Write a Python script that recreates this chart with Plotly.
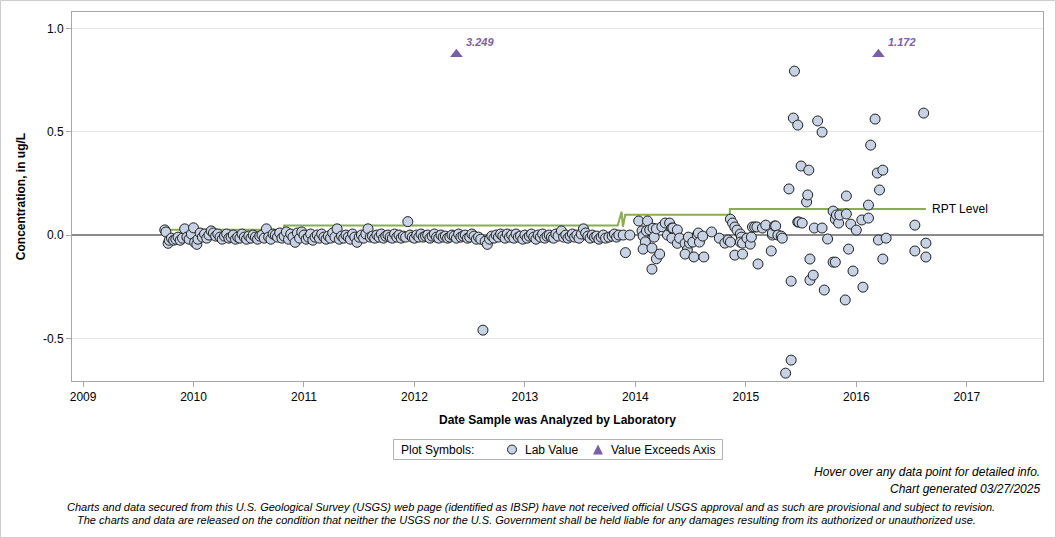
import plotly.graph_objects as go

# ---------------- data ----------------
# Lab values: decimal year of analysis, concentration (ug/L)
lab_years = [
    2009.74, 2009.75, 2009.77, 2009.78, 2009.80, 2009.82, 2009.84, 2009.86, 2009.88, 2009.90,
    2009.92, 2009.94, 2009.96, 2009.98,
    2010.00, 2010.01, 2010.03, 2010.04, 2010.06, 2010.08, 2010.10, 2010.12, 2010.14, 2010.16,
    2010.18, 2010.20, 2010.22, 2010.24, 2010.26, 2010.28, 2010.30, 2010.32, 2010.34, 2010.36,
    2010.38, 2010.40, 2010.42, 2010.44, 2010.46, 2010.48,
    2010.50, 2010.52, 2010.54, 2010.56, 2010.58, 2010.60, 2010.62, 2010.64, 2010.66, 2010.68,
    2010.70, 2010.72, 2010.74, 2010.76, 2010.78, 2010.80, 2010.82, 2010.84, 2010.86, 2010.88,
    2010.90, 2010.92, 2010.94, 2010.96, 2010.98,
    2011.00, 2011.02, 2011.04, 2011.06, 2011.08, 2011.10, 2011.12, 2011.14, 2011.16, 2011.18,
    2011.20, 2011.22, 2011.24, 2011.26, 2011.28, 2011.30, 2011.32, 2011.34, 2011.36, 2011.38,
    2011.40, 2011.42, 2011.44, 2011.46, 2011.48,
    2011.50, 2011.52, 2011.54, 2011.56, 2011.58, 2011.60, 2011.62, 2011.64, 2011.66, 2011.68,
    2011.70, 2011.72, 2011.74, 2011.76, 2011.78, 2011.80, 2011.82, 2011.84, 2011.86, 2011.88,
    2011.90, 2011.92, 2011.94, 2011.96, 2011.98,
    2012.00, 2012.02, 2012.04, 2012.06, 2012.08, 2012.10, 2012.12, 2012.14, 2012.16, 2012.18,
    2012.20, 2012.22, 2012.24, 2012.26, 2012.28, 2012.30, 2012.32, 2012.34, 2012.36, 2012.38,
    2012.40, 2012.42, 2012.44, 2012.46, 2012.48,
    2012.50, 2012.52, 2012.54, 2012.56, 2012.58, 2012.60, 2012.62, 2012.64, 2012.66, 2012.68,
    2012.70, 2012.72, 2012.74, 2012.76, 2012.78, 2012.80, 2012.82, 2012.84, 2012.86, 2012.88,
    2012.90, 2012.92, 2012.94, 2012.96, 2012.98,
    2013.00, 2013.02, 2013.04, 2013.06, 2013.08, 2013.10, 2013.12, 2013.14, 2013.16, 2013.18,
    2013.20, 2013.22, 2013.24, 2013.26, 2013.28, 2013.30, 2013.33, 2013.35, 2013.37, 2013.39,
    2013.41, 2013.43, 2013.45, 2013.47, 2013.49,
    2013.51, 2013.53, 2013.55, 2013.57, 2013.59, 2013.61, 2013.63, 2013.65, 2013.67, 2013.69,
    2013.71, 2013.73, 2013.76, 2013.79, 2013.81, 2013.83, 2013.85, 2013.89, 2013.91, 2013.95,
    2014.03, 2014.06, 2014.07, 2014.09, 2014.07, 2014.10, 2014.11, 2014.13, 2014.15, 2014.15,
    2014.16, 2014.17, 2014.19, 2014.19, 2014.22, 2014.24, 2014.27, 2014.29, 2014.31, 2014.33,
    2014.33, 2014.34, 2014.38, 2014.38, 2014.40, 2014.45, 2014.47, 2014.45, 2014.49, 2014.48,
    2014.52, 2014.53, 2014.56, 2014.57, 2014.58, 2014.61, 2014.62, 2014.69, 2014.76, 2014.81,
    2014.84, 2014.86, 2014.86, 2014.88, 2014.90, 2014.92, 2014.95, 2014.96, 2014.95, 2014.97,
    2014.90, 2014.97, 2015.01, 2015.04, 2015.05, 2015.06, 2015.08, 2015.10, 2015.11, 2015.15,
    2015.18, 2015.23, 2015.24, 2015.24, 2015.26, 2015.27, 2015.29, 2015.32, 2015.33, 2015.36,
    2015.39, 2015.41, 2015.41, 2015.43, 2015.44, 2015.47, 2015.47, 2015.48, 2015.50, 2015.51,
    2015.55, 2015.56, 2015.57, 2015.58, 2015.58, 2015.61, 2015.62, 2015.65, 2015.69, 2015.69,
    2015.71, 2015.74, 2015.79, 2015.79, 2015.81, 2015.81, 2015.82, 2015.84, 2015.85, 2015.90,
    2015.91, 2015.91, 2015.93, 2015.95, 2015.97, 2016.00, 2016.05, 2016.06, 2016.11, 2016.11,
    2016.13, 2016.17, 2016.19, 2016.20, 2016.21, 2016.24, 2016.24, 2016.27, 2016.53, 2016.53,
    2016.61, 2016.63, 2016.63,
]
lab_values = [
    0.025, 0.015, -0.040, -0.025, -0.015, -0.025, -0.020, -0.010, -0.025, -0.015,
    0.030, -0.010, -0.020, 0.005,
    0.035, -0.035, -0.045, -0.020, 0.010, -0.010, 0.005, -0.015, 0.000, 0.020,
    0.010, -0.005, 0.005, -0.010, -0.020, -0.005, 0.005, -0.015, -0.010, 0.000,
    -0.020, -0.010, -0.015, 0.005, -0.010, -0.020,
    -0.005, -0.015, 0.000, -0.010, -0.020, -0.005, 0.000, -0.015, 0.030, -0.010,
    -0.020, 0.005, 0.000, -0.010, 0.010, -0.015, -0.005, 0.015, -0.020, 0.005,
    -0.010, -0.035, 0.010, -0.015, 0.015,
    0.000, -0.020, -0.010, 0.005, -0.025, -0.010, 0.000, -0.015, 0.005, -0.010,
    -0.020, -0.005, -0.015, 0.010, -0.010, 0.030, -0.020, -0.005, -0.015, 0.000,
    -0.010, -0.020, 0.005, -0.010, -0.035,
    -0.010, 0.000, -0.015, 0.005, 0.030, -0.010, -0.005, -0.015, 0.000, -0.010,
    0.005, -0.015, -0.005, 0.000, -0.010, -0.015, 0.005, -0.010, 0.000, -0.015,
    -0.005, -0.010, 0.065, 0.000, -0.010,
    -0.015, 0.000, -0.010, 0.005, -0.010, -0.005, 0.000, -0.015, -0.005, 0.005,
    -0.010, -0.015, 0.000, -0.010, -0.005, -0.015, -0.010, 0.000, -0.005, -0.015,
    0.005, -0.010, -0.005, 0.000, -0.015,
    -0.010, 0.005, -0.005, -0.020, -0.010, -0.020, -0.460, -0.030, -0.045, -0.020,
    -0.005, -0.015, 0.000, -0.010, 0.005, -0.005, -0.015, 0.005, -0.010, 0.000,
    -0.015, 0.005, -0.010, -0.005, -0.020,
    0.000, -0.015, -0.005, 0.005, -0.010, -0.020, 0.000, -0.010, 0.005, -0.015,
    -0.005, 0.000, -0.010, -0.015, 0.005, -0.005, 0.020, -0.010, 0.000, -0.015,
    -0.005, 0.005, -0.010, 0.000, -0.015,
    0.005, 0.030, 0.010, -0.005, -0.015, 0.000, -0.010, -0.005, -0.020, -0.010,
    0.000, -0.015, -0.010, -0.005, 0.005, -0.010, 0.000, 0.000, -0.085, 0.000,
    0.068, 0.020, -0.005, -0.033, -0.068, 0.020, 0.068, 0.025, -0.063, -0.165,
    0.033, -0.010, 0.030, -0.115, -0.092, 0.040, 0.058, 0.000, 0.058, 0.034,
    -0.015, 0.034, 0.025, -0.040, -0.015, -0.040, -0.072, -0.092, -0.039, -0.010,
    -0.034, -0.106, 0.000, 0.010, -0.034, -0.005, -0.106, 0.015, -0.015, -0.039,
    -0.024, -0.034, 0.077, 0.058, 0.039, 0.024, 0.005, -0.010, -0.034, -0.039,
    -0.097, -0.092, -0.015, -0.044, -0.010, 0.039, 0.039, 0.039, -0.140, 0.034,
    0.048, -0.077, 0.000, 0.010, 0.044, 0.044, 0.000, -0.005, -0.015, -0.668,
    0.223, -0.605, -0.223, 0.566, 0.793, 0.532, 0.063, 0.063, 0.334, 0.058,
    0.160, 0.194, 0.314, -0.116, -0.218, -0.194, 0.034, 0.552, 0.498, 0.034,
    -0.266, -0.019, 0.116, -0.131, -0.131, 0.077, 0.097, 0.058, 0.097, -0.314,
    0.102, 0.189, -0.068, 0.053, -0.174, 0.024, 0.073, -0.252, 0.082, 0.145,
    0.435, 0.561, 0.300, -0.024, 0.218, 0.314, -0.116, -0.015, 0.048, -0.077,
    0.590, -0.039, -0.106,
]

# Values above the axis maximum (drawn as triangles near the top)
exceed_years = [2012.38, 2016.20]
exceed_values = [3.249, 1.172]
exceed_plot_y = 0.875  # position where off-scale values are marked

# Reporting level (RPT) step line
rpt_years = [2009.77, 2010.82, 2010.82, 2013.84, 2013.875, 2013.887, 2013.908, 2014.855, 2014.855, 2016.63]
rpt_values = [0.026, 0.026, 0.046, 0.046, 0.113, 0.040, 0.098, 0.098, 0.126, 0.126]

x_ticks = [2009, 2010, 2011, 2012, 2013, 2014, 2015, 2016, 2017]
y_ticks = [-0.5, 0.0, 0.5, 1.0]
y_ticklabels = ["-0.5", "0.0", "0.5", "1.0"]

# ---------------- layout geometry ----------------
W, H = 1056, 538
ML, MR, MT, MB = 72, 13, 12, 157
PW, PH = W - ML - MR, H - MT - MB


def pxx(px):
    return (px - ML) / PW


def pxy(py):
    return (H - MB - py) / PH


FONT = "Liberation Sans, Arial, Helvetica, sans-serif"
PURPLE = "#7a5fa6"
GREEN = "#8aac52"
CIRCLE_FILL = "#c7d3e5"
CIRCLE_LINE = "#1f1f1f"

fig = go.Figure()

fig.add_trace(go.Scatter(
    x=rpt_years, y=rpt_values, mode="lines",
    line=dict(color=GREEN, width=2),
    name="RPT Level", showlegend=False, hoverinfo="skip",
))

fig.add_trace(go.Scatter(
    x=lab_years, y=lab_values, mode="markers",
    marker=dict(symbol="circle", size=10, color=CIRCLE_FILL,
                line=dict(color=CIRCLE_LINE, width=1)),
    name="Lab Value", showlegend=False,
    hovertemplate="%{x:.2f}<br>%{y:.3f} ug/L<extra></extra>",
))

fig.add_trace(go.Scatter(
    x=exceed_years, y=[exceed_plot_y] * len(exceed_years), mode="markers",
    marker=dict(symbol="triangle-up", size=11, color=PURPLE, line=dict(width=0)),
    name="Value Exceeds Axis", showlegend=False,
    customdata=exceed_values,
    hovertemplate="%{x:.2f}<br>%{customdata:.3f} ug/L<extra></extra>",
))

annotations = []
for xv, val in zip(exceed_years, exceed_values):
    annotations.append(dict(
        x=xv, y=exceed_plot_y, xref="x", yref="y", text=f"<b><i>{val:.3f}</i></b>",
        showarrow=False, xanchor="left", yanchor="middle", xshift=8, yshift=12,
        font=dict(family=FONT, size=11, color=PURPLE),
    ))

annotations.append(dict(
    x=rpt_years[-1], y=rpt_values[-1], xref="x", yref="y", text="RPT Level",
    showarrow=False, xanchor="left", yanchor="middle", xshift=4,
    font=dict(family=FONT, size=12, color="#000000"),
))

# manual legend ("Plot Symbols:")
LEG_Y = 449.5
annotations += [
    dict(x=pxx(399), y=pxy(LEG_Y), xref="paper", yref="paper", text="Plot Symbols:",
         showarrow=False, xanchor="left", yanchor="middle",
         font=dict(family=FONT, size=12, color="#000")),
    dict(x=pxx(523), y=pxy(LEG_Y), xref="paper", yref="paper", text="Lab Value",
         showarrow=False, xanchor="left", yanchor="middle",
         font=dict(family=FONT, size=12, color="#000")),
    dict(x=pxx(609), y=pxy(LEG_Y), xref="paper", yref="paper", text="Value Exceeds Axis",
         showarrow=False, xanchor="left", yanchor="middle",
         font=dict(family=FONT, size=12, color="#000")),
]

annotations += [
    dict(x=pxx(1042), y=pxy(472), xref="paper", yref="paper",
         text="<i>Hover over any data point for detailed info.</i>", showarrow=False,
         xanchor="right", yanchor="middle", font=dict(family=FONT, size=12, color="#000")),
    dict(x=pxx(1042), y=pxy(489), xref="paper", yref="paper",
         text="<i>Chart generated 03/27/2025</i>", showarrow=False,
         xanchor="right", yanchor="middle", font=dict(family=FONT, size=12, color="#000")),
    dict(x=pxx(531), y=pxy(507), xref="paper", yref="paper",
         text="<i>Charts and data secured from this U.S. Geological Survey (USGS) web page (identified as IBSP) have not received official USGS approval and as such are provisional and subject to revision.</i>",
         showarrow=False, xanchor="center", yanchor="middle",
         font=dict(family=FONT, size=11, color="#000")),
    dict(x=pxx(526), y=pxy(520), xref="paper", yref="paper",
         text="<i>The charts and data are released on the condition that neither the USGS nor the U.S. Government shall be held liable for any damages resulting from its authorized or unauthorized use.</i>",
         showarrow=False, xanchor="center", yanchor="middle",
         font=dict(family=FONT, size=11, color="#000")),
]

shapes = [
    dict(type="rect", xref="paper", yref="paper",
         x0=pxx(0.5), x1=pxx(W - 0.5), y0=pxy(H - 0.5), y1=pxy(0.5),
         line=dict(color="#cccccc", width=1), fillcolor="rgba(0,0,0,0)", layer="below"),
    # legend box
    dict(type="rect", xref="paper", yref="paper",
         x0=pxx(393.5), x1=pxx(722.5), y0=pxy(459.5), y1=pxy(439.5),
         line=dict(color="#b3b3b3", width=1), fillcolor="white", layer="below"),
    # legend circle
    dict(type="circle", xref="paper", yref="paper",
         x0=pxx(507.5), x1=pxx(516.5), y0=pxy(LEG_Y + 4.5), y1=pxy(LEG_Y - 4.5),
         line=dict(color=CIRCLE_LINE, width=1), fillcolor=CIRCLE_FILL),
    # legend triangle
    dict(type="path", xref="paper", yref="paper",
         path=(f"M {pxx(593)} {pxy(LEG_Y + 5)} L {pxx(603)} {pxy(LEG_Y + 5)} "
               f"L {pxx(598)} {pxy(LEG_Y - 5)} Z"),
         line=dict(width=0), fillcolor=PURPLE),
]

fig.update_layout(
    width=W, height=H,
    margin=dict(l=ML, r=MR, t=MT, b=MB, pad=0),
    paper_bgcolor="white", plot_bgcolor="white",
    font=dict(family=FONT, size=12, color="#000"),
    showlegend=False,
    xaxis=dict(
        range=[2008.9, 2017.69], tickvals=x_ticks, ticktext=[str(t) for t in x_ticks],
        showgrid=False, zeroline=False, showline=True, linecolor="#a6a6a6", linewidth=1,
        mirror=True, ticks="outside", ticklen=5, tickcolor="#a6a6a6",
        tickfont=dict(family=FONT, size=12),
        title=dict(text="<b>Date Sample was Analyzed by Laboratory</b>",
                   font=dict(family=FONT, size=12), standoff=12),
    ),
    yaxis=dict(
        range=[-0.706, 1.079], tickvals=y_ticks, ticktext=y_ticklabels,
        showgrid=True, gridcolor="#e6e6e6", gridwidth=1,
        zeroline=True, zerolinecolor="#8a8a8a", zerolinewidth=2,
        showline=True, linecolor="#a6a6a6", linewidth=1, mirror=True,
        ticks="outside", ticklen=5, tickcolor="#a6a6a6",
        tickfont=dict(family=FONT, size=12),
        title=dict(text="<b>Concentration, in ug/L</b>",
                   font=dict(family=FONT, size=12), standoff=14),
    ),
    annotations=annotations,
    shapes=shapes,
)

fig.write_html("out.html")
